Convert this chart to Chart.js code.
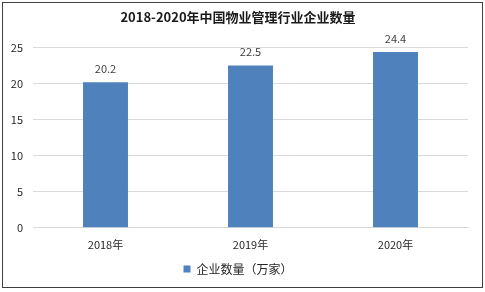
<!DOCTYPE html>
<html lang="zh">
<head>
    <meta charset="UTF-8">
    <title>2018-2020年中国物业管理行业企业数量</title>
    <script src="https://cdn.jsdelivr.net/npm/chart.js"></script>
    <style>
        body {
            margin: 0;
            background: #ffffff;
        }
        #wrap {
            position: relative;
            width: 485px;
            height: 292px;
        }
        #frame {
            position: absolute;
            left: 2px;
            top: 2px;
            width: 479px;
            height: 284px;
            border: 1px solid #3f3f3f;
            pointer-events: none;
        }
        canvas {
            position: absolute;
            left: 0;
            top: 0;
        }
    </style>
</head>
<body>
    <div id="wrap">
        <canvas id="chart" width="485" height="292"></canvas>
        <div id="frame"></div>
    </div>

    <script>
        const years = ["2018年", "2019年", "2020年"];
        const companies = [20.2, 22.5, 24.4];
        const yTicks = [0, 5, 10, 15, 20, 25];

        const fontFamily = "'Noto Sans CJK SC', 'Noto Sans', sans-serif";

        // подписи значений над столбцами
        const valueLabels = {
            id: 'valueLabels',
            afterDatasetsDraw(chart) {
                const ctx = chart.ctx;
                const meta = chart.getDatasetMeta(0);
                ctx.save();
                ctx.fillStyle = '#404040';
                ctx.font = '11px ' + fontFamily;
                ctx.textAlign = 'center';
                ctx.textBaseline = 'bottom';
                meta.data.forEach((bar, i) => {
                    ctx.fillText(companies[i].toFixed(1), bar.x, bar.y - 8);
                });
                ctx.restore();
            }
        };

        const ctx = document.getElementById('chart').getContext('2d');
        new Chart(ctx, {
            type: 'bar',
            data: {
                labels: years,
                datasets: [{
                    label: '企业数量（万家）',
                    data: companies,
                    backgroundColor: '#4f81bd',
                    borderWidth: 0,
                    barPercentage: 0.31,
                    categoryPercentage: 1.0
                }]
            },
            options: {
                responsive: false,
                animation: false,
                layout: {
                    padding: { left: 8, right: 17, top: 7, bottom: 7 }
                },
                plugins: {
                    title: {
                        display: true,
                        text: '2018-2020年中国物业管理行业企业数量',
                        color: '#1a1a1a',
                        font: { family: fontFamily, size: 13, weight: 'bold' },
                        padding: { top: 2, bottom: 23 }
                    },
                    legend: {
                        position: 'bottom',
                        labels: {
                            color: '#262626',
                            font: { family: fontFamily, size: 12 },
                            boxWidth: 7,
                            boxHeight: 7,
                            padding: 10
                        }
                    },
                    tooltip: { enabled: false }
                },
                scales: {
                    x: {
                        grid: { display: false },
                        border: { color: '#d9d9d9' },
                        ticks: {
                            color: '#262626',
                            font: { family: fontFamily, size: 11 },
                            padding: 2
                        }
                    },
                    y: {
                        min: 0,
                        max: 25,
                        afterBuildTicks(scale) {
                            scale.ticks = yTicks.map(v => ({ value: v }));
                        },
                        afterFit(scale) {
                            scale.width = 25;
                        },
                        grid: { color: '#d9d9d9', drawTicks: false },
                        border: { display: false },
                        ticks: {
                            color: '#262626',
                            font: { family: fontFamily, size: 11 },
                            padding: 10
                        }
                    }
                }
            },
            plugins: [valueLabels]
        });
    </script>
</body>
</html>
